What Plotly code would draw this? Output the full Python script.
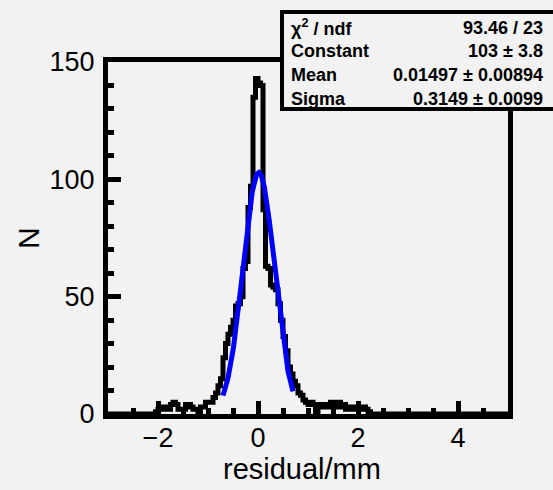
import numpy as np
import plotly.graph_objects as go

# ---------------- data ----------------
x_range = [-3.0, 5.0]
y_range = [0, 150]
bin_width = 0.05
first_edge = -2.05
counts = [1, 2, 2, 3, 2, 2, 4, 5, 4, 2, 2, 2, 4, 4, 3, 2, 2, 0, 3, 3,
          5, 5, 5, 7, 9, 12, 15, 24, 30, 34, 37, 40, 46, 47, 50, 62, 65, 88, 97, 135,
          143, 141, 140, 87, 63, 62, 55, 54, 53, 47, 40, 33, 27, 20, 17, 14, 12, 9, 8, 6,
          5, 4, 5, 4, 1, 3, 4, 3, 4, 3, 5, 3, 4, 5, 3, 4, 2, 3, 2, 3,
          2, 3, 2, 3, 2, 1]

fit_const = 103.0
fit_mean = 0.01497
fit_sigma = 0.3149
fit_range = [-0.7, 0.7]

x_ticks = [-2, 0, 2, 4]
y_ticks = [0, 50, 100, 150]

stats_labels = ["χ<sup>2</sup> / ndf", "Constant", "Mean", "Sigma"]
stats_values = ["93.46 / 23", "103 ± 3.8", "0.01497 ± 0.00894", "0.3149 ± 0.0099"]

# ---------------- figure ----------------
W, H = 553, 490
ML, MR, MT, MB = 108, 45, 62, 76
PW, PH = W - ML - MR, H - MT - MB

def px(p):
    return (p - ML) / PW

def py(p):
    return 1 - (p - MT) / PH

edges = first_edge + bin_width * np.arange(len(counts) + 1)
hx = np.concatenate([[x_range[0]], edges, [x_range[1]]])
hy = np.concatenate([[0], counts, [0, 0]])

fx = np.linspace(fit_range[0], fit_range[1], 300)
fy = fit_const * np.exp(-0.5 * ((fx - fit_mean) / fit_sigma) ** 2)

fig = go.Figure()
fig.add_trace(go.Scatter(x=hx, y=hy, mode="lines", line=dict(shape="hv", color="black", width=5),
                         hoverinfo="skip", showlegend=False))
fig.add_trace(go.Scatter(x=fx, y=fy, mode="lines", line=dict(color="#0000ff", width=5),
                         hoverinfo="skip", showlegend=False))

BG = "#f2f2f2"
FONT = "Liberation Sans, Arial, sans-serif"
tickfont = dict(family=FONT, size=27, color="black")
fig.update_layout(
    width=W, height=H,
    margin=dict(l=ML, r=MR, t=MT, b=MB, pad=0),
    paper_bgcolor=BG, plot_bgcolor=BG,
    xaxis=dict(range=x_range, tickvals=x_ticks, ticks="inside", ticklen=13, tickwidth=5,
               tickcolor="black", showline=True, linewidth=5, linecolor="black", mirror=True,
               showgrid=False, zeroline=False, tickfont=tickfont, ticklabelstandoff=-4,
               minor=dict(dtick=0.5, tick0=0, ticks="inside", ticklen=6, tickwidth=5,
                          tickcolor="black", showgrid=False)),
    yaxis=dict(range=y_range, tickvals=y_ticks, ticks="inside", ticklen=13, tickwidth=5,
               tickcolor="black", showline=True, linewidth=5, linecolor="black", mirror=True,
               showgrid=False, zeroline=False, tickfont=tickfont, ticklabelstandoff=3,
               minor=dict(dtick=10, tick0=0, ticks="inside", ticklen=6, tickwidth=5,
                          tickcolor="black", showgrid=False)),
)

# axis titles
fig.add_annotation(x=px(302), y=py(469), xref="paper", yref="paper", text="residual/mm",
                   showarrow=False, xanchor="center", yanchor="middle",
                   font=dict(family=FONT, size=29, color="black"))
fig.add_annotation(x=px(28), y=py(238), xref="paper", yref="paper", text="N", textangle=-90,
                   showarrow=False, xanchor="center", yanchor="middle",
                   font=dict(family=FONT, size=30, color="black"))

# stats box
fig.add_shape(type="rect", xref="paper", yref="paper", x0=px(282), x1=px(560), y0=py(12), y1=py(109),
              line=dict(color="black", width=4), fillcolor=BG, layer="above")
row_y = [28, 51, 75, 99]
sfont = dict(family=FONT, size=18, color="black")
for lab, val, yy in zip(stats_labels, stats_values, row_y):
    fig.add_annotation(x=px(289), y=py(yy), xref="paper", yref="paper", text="<b>" + lab + "</b>",
                       showarrow=False, xanchor="left", yanchor="middle", font=sfont)
    fig.add_annotation(x=px(545), y=py(yy), xref="paper", yref="paper", text="<b>" + val + "</b>",
                       showarrow=False, xanchor="right", yanchor="middle", font=sfont)

fig.write_html("out.html")
